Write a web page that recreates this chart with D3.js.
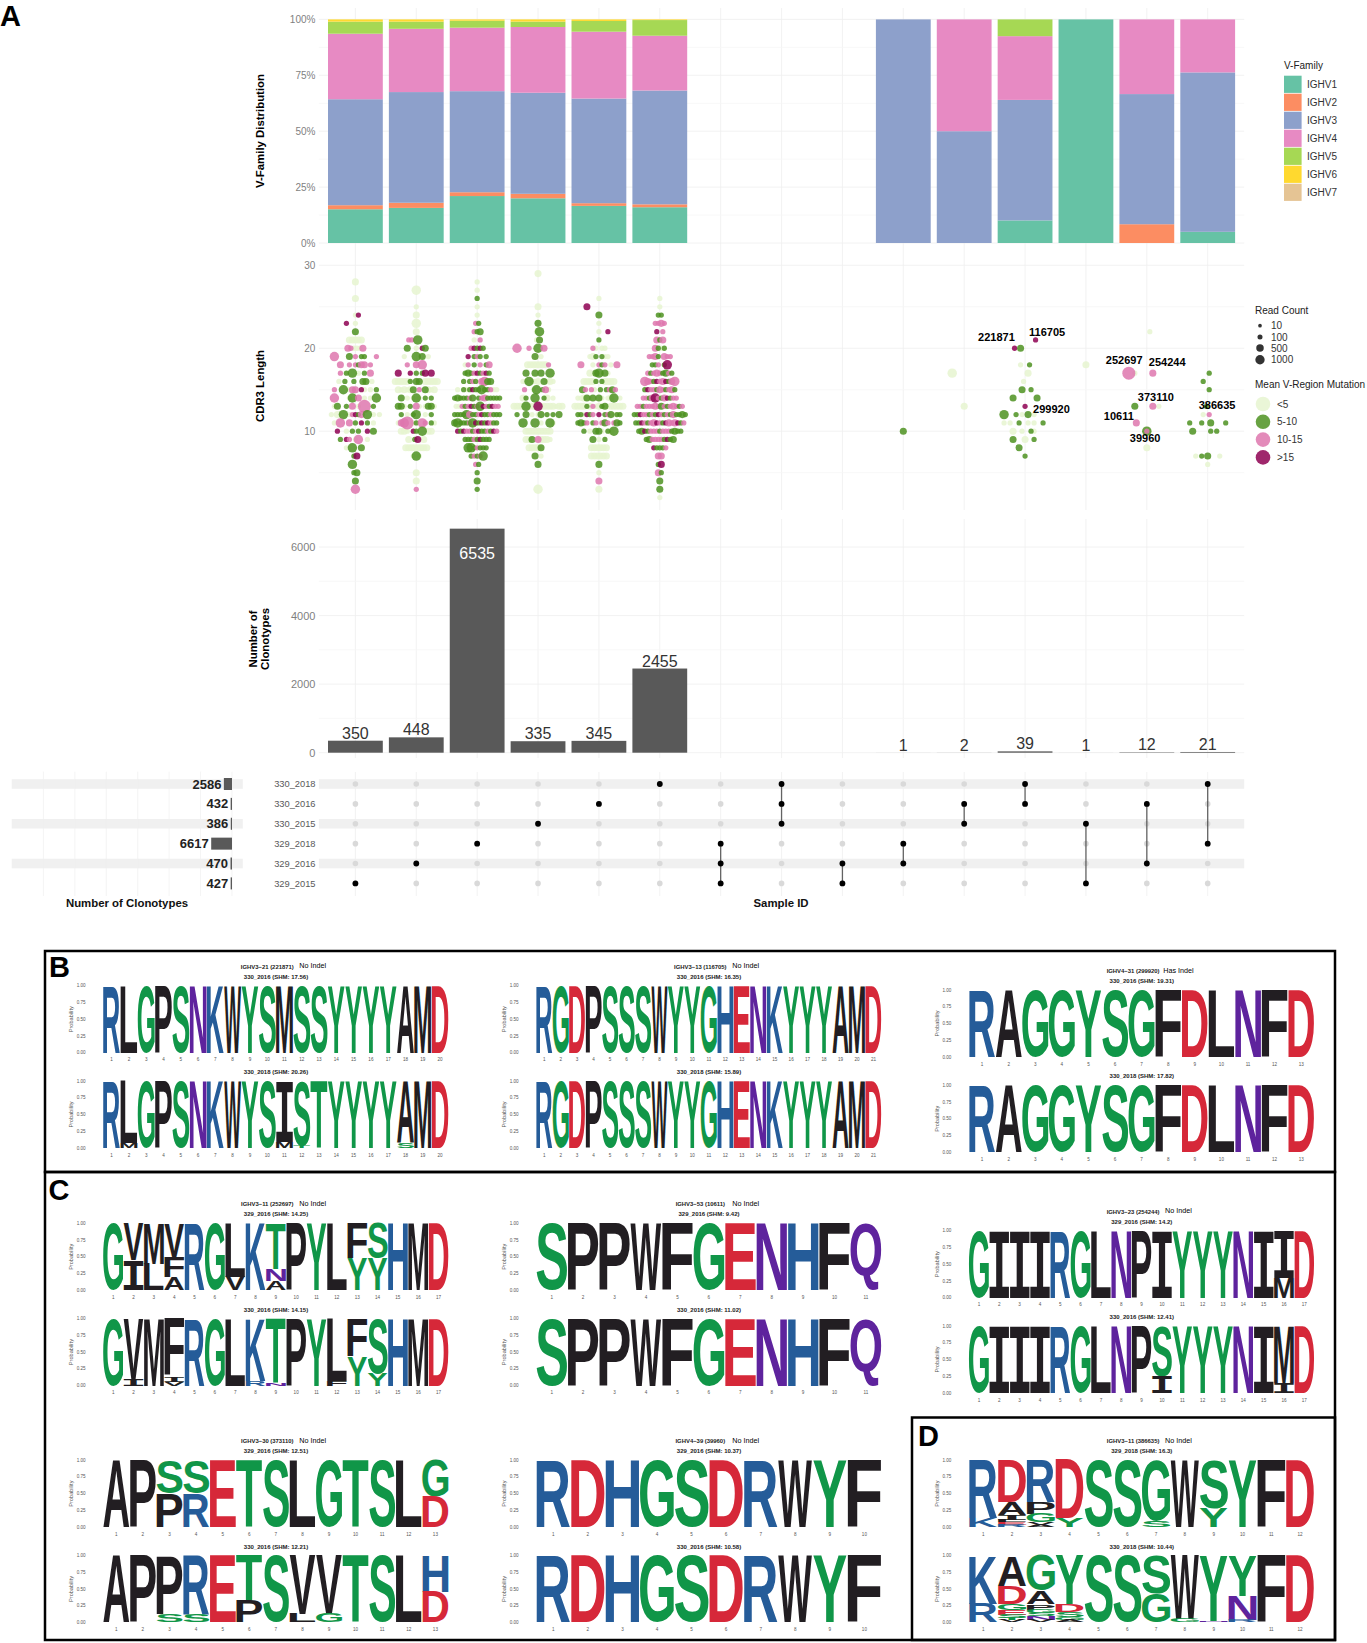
<!DOCTYPE html>
<html><head><meta charset="utf-8">
<script src="https://cdn.jsdelivr.net/npm/d3@7/dist/d3.min.js"></script>
<style>html,body{margin:0;background:#fff}svg{display:block;font-family:"Liberation Sans",Arial,sans-serif}</style>
</head><body><svg id="c" width="1367" height="1643"></svg>
<script>
// ---------- DATA ----------
const vFamilies=["IGHV1","IGHV2","IGHV3","IGHV4","IGHV5","IGHV6","IGHV7"];
const vColors=["#66c2a5","#fc8d62","#8da0cb","#e78ac3","#a6d854","#ffd92f","#e5c494"];
// share per family (%), one row per intersection column, in column order
const vShares=[
[15.1,1.8,47.4,29.3,5.4,1,0],[15.7,2.3,49.5,28.3,3.2,1,0],[21,1.7,45.2,28.4,3.1,.6,0],
[20,2,45.2,29.4,2.4,1,0],[16.6,1.2,46.8,29.9,4.8,.7,0],[16,1.3,50.9,24.5,7,.3,0],
[0,0,0,0,0,0,0],[0,0,0,0,0,0,0],[0,0,0,0,0,0,0],
[0,0,100,0,0,0,0],[0,0,50,50,0,0,0],[10.1,0,53.9,28.5,7.5,0,0],[100,0,0,0,0,0,0],
[0,8.4,58.2,33.4,0,0,0],[5,0,71.3,23.7,0,0,0]];
const intersectionSizes=[350,448,6535,335,345,2455,0,0,0,1,2,39,1,12,21];
const sampleIds=["330_2018","330_2016","330_2015","329_2018","329_2016","329_2015"];
const sampleTotals=[2586,432,386,6617,470,427];
const memberships=[["329_2015"],["329_2016"],["329_2018"],["330_2015"],["330_2016"],["330_2018"],
["329_2018","329_2016","329_2015"],["330_2018","330_2016","330_2015"],["329_2016","329_2015"],
["329_2018","329_2016"],["330_2016","330_2015"],["330_2018","330_2016"],["330_2015","329_2015"],
["330_2016","329_2016"],["330_2018","329_2018"]];
// clonotype swarm: [CDR3 length, row text]. One char per swarm slot, row centred on the column.
// a g p m = <5, 5-10, 10-15, >15 (about 80 reads); capitals about 300 reads; $ # @ & about 800 reads; % about 2000 reads
const swarmCols=[
[[28,"A"],[26,"A"],[24,".am"],[23,"m..a..."],[22,"G"],[21,"AAAAA"],[20,"PpaaaP"],[19,"@....G.p.gg...p"],[18,"P..p.pgPP.p"],[17,"p.g.#.a.g.P"],[16,"a.g..g..GG.a"],[15,"p..#.aPP.ma.a.g"],[14,"@....a#.P.a.a.#"],[13,"aG..g.P.a.%..g."],[12,"a.A.#.apmgP.#.a.a"],[11,"a.@..P.g.m.g.a."],[10,"m..a.g.g..m.G"],[9,"g.mp.a@..a."],[8,".a.#..G.."],[7,"gM"],[6,"#.."],[5,"gG"],[4,"G"],[3,"@"]],
[[27,"$"],[25,"a"],[24,"A"],[23,"$"],[22,"A"],[21,"pp.#.."],[20,"G..a.mG"],[19,"a...#.G.a"],[18,".p..P.@.."],[17,"M...m.g.gM.M."],[16,"AAAAAg.GG.AAAAA"],[15,"AaAaAG.p.GAaA"],[14,"G.a.a#a.g.g"],[13,"GGa.g.Pa.aGGa"],[12,"g.a.g#..a.g"],[11,"aP@%.ag.@p.ga"],[10,"AAa.mg.#.AA"],[9,"A.gM.A"],[8,"AAAAAAAA"],[7,"a#a"],[5,"A"],[4,"A"],[3,"p"]],
[[28,"a"],[27,"a"],[26,"g"],[25,"a"],[24,"a"],[23,"pg"],[22,"pgG"],[21,"a.p"],[20,"pmgmg"],[19,"m.gpg.g"],[18,"ap.g.p.gP"],[17,"gGgpmgpmg"],[16,"g.gpg.P@GG"],[15,"a.gagmgg#ggpaa"],[14,"gGgggpG.gpPggggg"],[13,"aapgpmgp#mpgmpp"],[12,"gggg#Pggpmggpggg"],[11,"G#gggp#mgmgmpgg."],[10,"mgmppgpmggpgmp"],[9,"gggpgmggg"],[8,"##gpggg"],[7,"gpgp#"],[6,"pg"],[5,"g"],[4,"G"],[3,"g"]],
[[29,"A"],[25,"A"],[24,"a"],[23,"G"],[22,"a#"],[21,"aG"],[20,"@...p..#.P....."],[19,"G.a"],[18,"AAAAAAAp"],[17,"G..G.G..#"],[16,"aa#aaA.GaAa"],[15,"p..a#.gPa."],[14,"Ag..#..gA.a"],[13,"AAAA#AAA&AAAAAaAA"],[12,"g..G.a.aG.g.g.G"],[11,"#...#.a..#a"],[10,"AAAAAAAAA"],[9,"AAG.PAAAa"],[8,"AAAAG.."],[7,"G.a"],[6,"G"],[3,"$"]],
[[26,"a"],[25,"M........"],[24,"G"],[23,"a"],[22,"...a..m"],[21,"g"],[20,"pa.aa"],[19,"aAg.gaa"],[18,"P...a.pgp.a.P"],[17,"AaG#aGa"],[16,"AAAAg.gAAAA"],[15,"Gp.pa.g.gpGp"],[14,"aaAGaG.Ga.aA#.a"],[13,"AAAAgApaAgGaAAAAA"],[12,"ggamgp.m.gpGagg"],[11,"gGgp.gp.pGp.pGg"],[10,"g.a.GGa.gA#"],[9,"G.a.g"],[8,"AAAAAA"],[7,"AAAAAA"],[6,"G"],[5,"a"],[4,"P"],[3,"A"]],
[[26,"a"],[25,"a"],[24,"gg"],[23,"ppPp"],[22,"m.p"],[21,"PgP"],[20,"Pgag"],[19,"ppPg.Ppp"],[18,"ggp.g&"],[17,"pgpPpgGpg"],[16,"@PpgmpPmgP@"],[15,"gmppgPpgpPg"],[14,"ppgP&pgPmgpp"],[13,"ppgpppPpGpgpPpgp"],[12,"ggmppgpgmpgpgPggGg"],[11,"ggmpgpPmpgmPpPmgp"],[10,"gGmgpppgpppgGgg"],[9,"gGppppgmgG"],[8,"mgggp"],[7,"PP"],[6,"gM"],[5,"Pg"],[4,"G"],[3,"G"],[2,"a"]],
[],[],[],
[[10,"G"]],
[[17,"$........"],[13,"A"]],
[[21,".......m"],[20,"m.G....."],[18,"a..g"],[17,"...A."],[16,"a."],[15,".G..g"],[14,"G.......G"],[13,"m"],[12,"#...g.a.G.a...."],[11,"a.a..g..a.a..g."],[10,"A..a..ga."],[9,"G...A..g."],[8,"G...."],[7,"g"]],
[[18,"A"]],
[[22,"..a"],[17,"%.a.....P...."],[13,"G.....P.a"],[11,"P......."],[10,"#"],[10,"p"],[8,"A"]],
[[17,".g"],[16,"g..."],[15,".g"],[13,"g."],[12,"a.p."],[11,"g...g..G....g"],[10,"G.....g.g.."],[7,"a.g.G...a"],[6,"a"]]
];
const clonotypeLabels=[["221871",11,20,-30,-10],["116705",11,21,21,-7],["299920",11,13,25,4],["252697",13,17,-24,-12],["254244",13,17,19,-10],["373110",13,13,8,-8],["10611",13,11,-26,-6],["39960",13,10,0,8],["386635",14,12,8,-9]];
const readLegend=[10,100,500,1000];
const mutationClasses=["<5","5-10","10-15",">15"];
const mutationColors=["#e6f5d0","#4d9221","#de77ae","#8e0152"];
const aminoGroups={G:0,S:0,T:0,Y:0,C:0,Q:1,N:1,K:2,R:2,H:2,D:3,E:3,A:4,V:4,L:4,I:4,P:4,W:4,F:4,M:4};
const aminoColors=["#109648","#5E239D","#255C99","#D62839","#221E22"];
const same=s=>s.split(" ");
const logos=[
{t:"IGHV3−21 (221871)",i:"No Indel",c:0,r:0,a:"330_2016 (SHM: 17.56)",s:same("R L G P S N K W Y S M S S Y Y Y Y A M D"),b:"330_2018 (SHM: 20.26)",u:same("R L.93,M.07 G P S N K W Y S I.91,M.09 S.97,T.03 T Y Y Y Y A.93,S.07 M D")},
{t:"IGHV3−13 (116705)",i:"No Indel",c:1,r:0,a:"330_2016 (SHM: 16.35)",s:same("R G D P S S S W Y Y G H E N K Y Y Y A M D"),b:"330_2018 (SHM: 15.89)",u:same("R G D P S S S W Y Y G H E N K Y Y Y A M D")},
{t:"IGHV4−31 (299920)",i:"Has Indel",c:2,r:1,a:"330_2016 (SHM: 19.31)",s:same("R A G G Y S G F D L N F D"),b:"330_2018 (SHM: 17.82)",u:same("R A G G Y S G F D L N F D")},
{t:"IGHV3−11 (252697)",i:"No Indel",c:0,r:2,a:"329_2016 (SHM: 14.25)",s:same("G V.55,I.45 M.6,L.4 V.5,F.31,A.19 R G L.8,V.2 K T.68,N.18,A.14 P Y L F.52,Y.48 S.52,Y.48 H M D"),b:"330_2016 (SHM: 14.15)",u:same("G V.9,I.1 M F.86,I.08,V.06 R G L K.93,R.07 T.96,N.04 P Y L.93,F.07 F.56,Y.44 S.82,Y.18 H M D")},
{t:"IGHV3−53 (10611)",i:"No Indel",c:1,r:2,a:"329_2016 (SHM: 9.42)",s:same("S P P W F G E N H F Q"),b:"330_2016 (SHM: 11.02)",u:same("S P P W F G E N H F Q")},
{t:"IGHV3−23 (254244)",i:"No Indel",c:2,r:3,a:"329_2016 (SHM: 14.2)",s:same("G I I I R G L N P I Y Y Y N I I.7,M.3 D"),b:"330_2016 (SHM: 12.41)",u:same("G I I I R G L N P S.75,I.25 Y Y Y N I M.85,I.15 D")},
{t:"IGHV3−30 (373110)",i:"No Indel",c:0,r:4,a:"329_2016 (SHM: 12.51)",s:same("A P S.5,P.5 S.5,R.5 E T S L G T S L G.55,D.45"),b:"330_2016 (SHM: 12.21)",u:same("A P P.88,S.12 R.88,S.12 E T.67,P.33 S V.87,L.13 V.87,G.13 T S L H.55,D.45")},
{t:"IGHV4−39 (39960)",i:"No Indel",c:1,r:4,a:"329_2016 (SHM: 10.37)",s:same("R D H G S D R W Y F"),b:"330_2016 (SHM: 10.58)",u:same("R D H G S D R W Y F")},
{t:"IGHV3−11 (386635)",i:"No Indel",c:2,r:4,a:"329_2018 (SHM: 16.3)",s:same("R.86,K.14 D.62,A.2,I.08,L.03,E.04,R.03 R.62,P.18,G.13,V.04,A.03 D.87,Y.13 S S G.9,S.1 W S.72,Y.28 Y F D"),b:"330_2018 (SHM: 10.44)",u:same("K.72,R.28 A.45,D.27,G.1,E.07,S.05,T.03,V.03 G.53,A.2,P.08,G.05,S.05,N.05,V.04 Y.73,D.12,S.07,G.04,A.04 S S S.57,G.43 W.95,G.05 Y.98,N.02 Y.6,N.37,R.03 F D")}
];

// ---------- LAYOUT ----------
const svg=d3.select("#c");
const plotL=318.9,plotR=1244.2;
const x=d3.scalePoint().domain(d3.range(15)).range([355.4,1207.7]);
const barW=54.8;
const GRID="#efefef",MINOR="#f6f6f6",TICK="#7f7f7f";
function vGrid(y0,y1){svg.append("g").selectAll("line").data(x.domain()).join("line").attr("x1",d=>x(d)).attr("x2",d=>x(d)).attr("y1",y0).attr("y2",y1).attr("stroke",GRID).attr("stroke-width",.8);}
function hGrid(y,ticks,cls){svg.append("g").selectAll("line").data(ticks).join("line").attr("x1",plotL).attr("x2",plotR).attr("y1",d=>y(d)).attr("y2",d=>y(d)).attr("stroke",cls).attr("stroke-width",.8);}
function yAxis(y,ticks,fmt,fs){const g=svg.append("g").attr("transform",`translate(${plotL-3.5},0)`).call(d3.axisLeft(y).tickValues(ticks).tickSize(0).tickPadding(0).tickFormat(fmt));g.select(".domain").remove();g.selectAll("text").attr("fill",TICK).attr("font-size",fs).attr("font-family","Liberation Sans");}
function yTitle(lines,cx,cy){lines.forEach((l,i)=>svg.append("text").attr("transform",`translate(${cx+i*12.3},${cy}) rotate(-90)`).attr("text-anchor","middle").attr("font-weight","bold").attr("font-size",11.4).attr("dominant-baseline","middle").text(l));}

// --- V-family stacked bars
const yPct=d3.scaleLinear().domain([0,100]).range([243,19.4]);
vGrid(8,255);
hGrid(yPct,d3.range(12.5,100,25),MINOR);hGrid(yPct,d3.range(0,101,25),GRID);
yAxis(yPct,d3.range(0,101,25),d=>d+"%",10);
yTitle(["V-Family Distribution"],261,131);
const stack=d3.stack().keys(d3.range(7)).value((row,k)=>row[k])(vShares);
svg.append("g").selectAll("g").data(stack).join("g").attr("fill",(d,i)=>vColors[i]).selectAll("rect").data(d=>d.map((v,i)=>({v,i}))).join("rect")
 .attr("x",d=>x(d.i)-barW/2).attr("width",barW).attr("y",d=>yPct(d.v[1])).attr("height",d=>yPct(d.v[0])-yPct(d.v[1]));
// legend
const lg=svg.append("g").attr("font-size",10);
lg.append("text").attr("x",1284).attr("y",69).attr("fill","#222").text("V-Family");
vFamilies.forEach((f,i)=>{const cy=84.3+18*i;
 lg.append("rect").attr("x",1284).attr("y",cy-8.6).attr("width",17.6).attr("height",17.2).attr("fill",vColors[i]);
 lg.append("text").attr("x",1307).attr("y",cy+3.5).attr("fill","#333").text(f);});

// --- CDR3 swarm
const yLen=d3.scaleLinear().domain([10,30]).range([431.2,265.3]);
vGrid(255,510);
hGrid(yLen,[5,15,25],MINOR);hGrid(yLen,[10,20,30],GRID);
yAxis(yLen,[10,20,30],d3.format("d"),10);
yTitle(["CDR3 Length"],261,386);
const rScale=d3.scaleSqrt().domain([10,2000]).range([2,6.5]);
const tokenInfo={a:[0,80],g:[1,80],p:[2,80],m:[3,80],A:[0,300],G:[1,300],P:[2,300],M:[3,300],$:[0,800],"#":[1,800],"@":[2,800],"&":[3,800],"%":[2,2000]};
const dots=[];const PITCH=3;
swarmCols.forEach((rows,col)=>rows.forEach(([len,txt])=>{[...txt].forEach((ch,i)=>{if(tokenInfo[ch])dots.push({col,len,off:(i-(txt.length-1)/2)*PITCH,cls:tokenInfo[ch][0],reads:tokenInfo[ch][1]});});}));
dots.sort((a,b)=>(a.cls===0?0:1)-(b.cls===0?0:1));
svg.append("g").selectAll("circle").data(dots).join("circle").attr("cx",d=>x(d.col)+d.off).attr("cy",d=>yLen(d.len)).attr("r",d=>rScale(d.reads)).attr("fill",d=>mutationColors[d.cls]).attr("fill-opacity",.85);
svg.append("g").selectAll("text").data(clonotypeLabels).join("text").attr("x",d=>x(d[1])+d[3]-17).attr("y",d=>yLen(d[2])+d[4]).attr("font-size",11).attr("font-weight","bold").attr("dominant-baseline","middle").text(d=>d[0]);
const rl=svg.append("g").attr("font-size",10);
rl.append("text").attr("x",1255).attr("y",314).attr("fill","#222").text("Read Count");
readLegend.forEach((r,i)=>{const cy=[325.7,337,348,359.7][i];
 rl.append("circle").attr("cx",1260).attr("cy",cy).attr("r",rScale(r)*.92).attr("fill","#333");
 rl.append("text").attr("x",1271).attr("y",cy+3.5).attr("fill","#333").text(r);});
rl.append("text").attr("x",1255).attr("y",388).attr("fill","#222").text("Mean V-Region Mutation");
mutationClasses.forEach((m,i)=>{const cy=404+17.8*i;
 rl.append("circle").attr("cx",1263).attr("cy",cy).attr("r",7.3).attr("fill",mutationColors[i]).attr("fill-opacity",.85);
 rl.append("text").attr("x",1277).attr("y",cy+3.5).attr("fill","#333").text(m);});

// --- Intersection bars
const yBar=d3.scaleLinear().domain([0,6000]).range([752.7,547]);
vGrid(519,758);
hGrid(yBar,[1000,3000,5000],MINOR);hGrid(yBar,[0,2000,4000,6000],GRID);
yAxis(yBar,[0,2000,4000,6000],d3.format("d"),11);
yTitle(["Number of","Clonotypes"],253.7,639);
const ib=intersectionSizes.map((v,i)=>({v,i})).filter(d=>d.v>0);
svg.append("g").selectAll("rect").data(ib).join("rect").attr("x",d=>x(d.i)-barW/2).attr("width",barW).attr("y",d=>yBar(d.v)).attr("height",d=>yBar(0)-yBar(d.v)).attr("fill","#595959");
svg.append("g").selectAll("text").data(ib).join("text").attr("x",d=>x(d.i)).attr("y",d=>d.v>6000?yBar(d.v)+30:yBar(d.v)-2).attr("text-anchor","middle").attr("font-size",16).attr("fill",d=>d.v>6000?"#fff":"#333").text(d=>d.v);

// --- UpSet matrix
const yRow=d3.scalePoint().domain(sampleIds).range([784,883.4]);
const xSet=d3.scaleLinear().domain([0,6617]).range([232,211.2]);
svg.append("g").selectAll("line").data(d3.range(0,70000,10000)).join("line").attr("x1",d=>xSet(d)).attr("x2",d=>xSet(d)).attr("y1",771.7).attr("y2",896).attr("stroke",GRID).attr("stroke-width",.7);
vGrid(772,896);
sampleIds.forEach((s,i)=>{if(i%2===0){[[plotL,plotR],[11.7,242.8]].forEach(([a,b])=>svg.insert("rect","g").attr("x",a).attr("width",b-a).attr("y",yRow(s)-4.8).attr("height",9.6).attr("fill","#f0f0f0"));}});
svg.append("g").selectAll("rect").data(sampleIds).join("rect").attr("x",(d,i)=>xSet(sampleTotals[i])).attr("width",(d,i)=>232-xSet(sampleTotals[i])).attr("y",d=>yRow(d)-6).attr("height",12).attr("fill","#595959");
svg.append("g").selectAll("text").data(sampleIds).join("text").attr("x",(d,i)=>xSet(sampleTotals[i])-2.5).attr("y",d=>yRow(d)+4.6).attr("text-anchor","end").attr("font-size",13).attr("font-weight","bold").attr("fill","#222").text((d,i)=>sampleTotals[i]);
svg.append("g").selectAll("text").data(sampleIds).join("text").attr("x",315.5).attr("y",d=>yRow(d)+3.2).attr("text-anchor","end").attr("font-size",9.3).attr("fill","#595959").text(d=>d);
x.domain().forEach(c=>{
 svg.append("g").selectAll("circle").data(sampleIds).join("circle").attr("cx",x(c)).attr("cy",d=>yRow(d)).attr("r",2.8).attr("fill","#d9d9d9");
 const m=memberships[c];
 if(m.length>1)svg.append("line").attr("x1",x(c)).attr("x2",x(c)).attr("y1",d3.min(m,yRow)).attr("y2",d3.max(m,yRow)).attr("stroke","#333").attr("stroke-opacity",.75).attr("stroke-width",1.3);
 svg.append("g").selectAll("circle").data(m).join("circle").attr("cx",x(c)).attr("cy",d=>yRow(d)).attr("r",2.9).attr("fill","#000");
});
[["Number of Clonotypes",127],["Sample ID",781]].forEach(([t,cx])=>svg.append("text").attr("x",cx).attr("y",906.5).attr("text-anchor","middle").attr("font-size",11.4).attr("font-weight","bold").attr("fill","#111").text(t));

// --- Sequence logos
const logoLefts=[103,536,968.8];const logoW=345.7;
const logoRowOffsets=[0,4.2,237.6,245,474.4];
const cv=document.createElement("canvas").getContext("2d");
const fontFor=c=>c==="I"?"Liberation Mono":"Liberation Sans";
const ink={};
function inkOf(c){if(!ink[c]){cv.font=`bold 100px "${fontFor(c)}"`;const m=cv.measureText(c);ink[c]={l:-m.actualBoundingBoxLeft,r:m.actualBoundingBoxRight,t:m.actualBoundingBoxAscent,b:m.actualBoundingBoxDescent};}return ink[c];}
function parseStack(tok){let top=1;return tok.split(",").map(p=>{const c=p[0],f=p.length>1?+p.slice(1):1;const o={c,hi:top,lo:top-f};top-=f;return o;});}
function drawLogo(L,y1,y0,seq){
 const n=seq.length;
 const bx=d3.scaleBand().domain(d3.range(1,n+1)).range([L,L+logoW]);
 const by=d3.scaleLinear().domain([0,1]).range([y0,y1]);
 const g=svg.append("g");
 const w=bx.bandwidth()*.98;
 seq.forEach((tok,i)=>{parseStack(tok).forEach(s=>{
   const k=inkOf(s.c);const h=by(s.lo)-by(s.hi);if(h<=0)return;
   const sx=w/(k.r-k.l),sy=h/(k.t+k.b);
   const px=bx(i+1)+(bx.bandwidth()-w)/2;
   g.append("text").attr("transform",`translate(${px},${by(s.lo)}) scale(${sx},${sy}) translate(${-k.l},${-k.b})`).attr("font-family",fontFor(s.c)).attr("font-size",100).attr("font-weight","bold").attr("fill",aminoColors[aminoGroups[s.c]]).text(s.c);
 });});
 g.selectAll(".pos").data(d3.range(1,n+1)).join("text").attr("x",d=>bx(d)+bx.bandwidth()/2).attr("y",y0+8.6).attr("text-anchor","middle").attr("font-size",4.6).attr("fill","#555").text(d=>d);
 g.selectAll(".pt").data([0,.25,.5,.75,1]).join("text").attr("x",L-17.4).attr("y",d=>by(d)+1.6).attr("text-anchor","end").attr("font-size",4.6).attr("fill","#555").text(d=>d.toFixed(2));
 g.append("text").attr("transform",`translate(${L-31.4},${(y0+y1)/2}) rotate(-90)`).attr("text-anchor","middle").attr("dominant-baseline","middle").attr("font-size",5.6).attr("fill","#555").text("Probability");
}
logos.forEach(l=>{
 const L=logoLefts[l.c],o=logoRowOffsets[l.r];
 const tx=(t,cx,y,fs,w,col)=>svg.append("text").attr("x",cx).attr("y",y).attr("text-anchor","middle").attr("dominant-baseline","middle").attr("font-size",fs).attr("font-weight",w).attr("fill",col).text(t);
 tx(l.t,L+164.3,967.3+o,5.9,"bold","#222");
 tx(l.i,L+209.6,966.4+o,7.2,"normal","#000");
 tx(l.a,L+173,977+o,6,"bold","#222");
 tx(l.b,L+173,1072.7+o,6,"bold","#222");
 drawLogo(L,985.7+o,1052.7+o,l.s);
 drawLogo(L,1081+o,1148+o,l.u);
});

// --- frames & panel letters
[[45,951,1290,221],[45,1172,1290,468],[912,1417.5,423,222.5]].forEach(([a,b,w,h])=>svg.append("rect").attr("x",a).attr("y",b).attr("width",w).attr("height",h).attr("fill","none").attr("stroke","#000").attr("stroke-width",2.5));
[["A",0,25.5],["B",49,976.8],["C",48.5,1200],["D",918,1446]].forEach(([t,a,b])=>svg.append("text").attr("x",a).attr("y",b).attr("font-size",29).attr("font-weight","bold").attr("fill","#000").text(t));
</script></body></html>
